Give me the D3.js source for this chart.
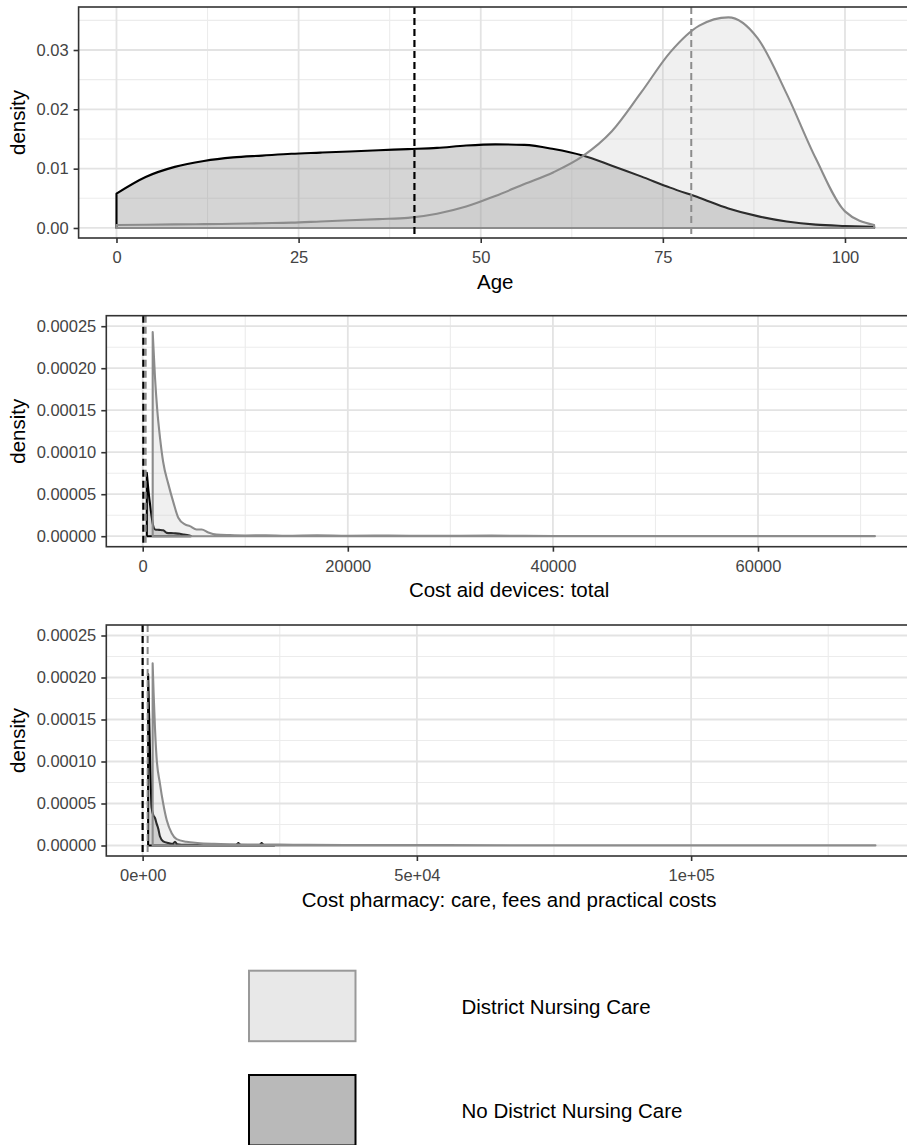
<!DOCTYPE html>
<html>
<head>
<meta charset="utf-8">
<script src="https://cdn.jsdelivr.net/npm/d3@7"></script>
<style>
  html, body { margin: 0; padding: 0; background: #fff; }
  svg { display: block; font-family: "Liberation Sans", Arial, sans-serif; }
</style>
</head>
<body>
<svg id="chart" width="907" height="1145"></svg>
<script>
// ---- series labels (legend order) ----
const seriesNames = ["District Nursing Care", "No District Nursing Care"];

// ---- Age densities ----
const ageGrid = [0, 4, 8, 12, 16, 20, 24, 28, 32, 36, 40, 44, 48, 52, 56, 60, 64, 68, 72, 76, 80, 84, 88, 92, 96, 100, 104];
const ageDensityDistrict = [0.0005, 0.00055, 0.0006, 0.00065, 0.0007, 0.0008, 0.0009, 0.0011, 0.0013, 0.0015, 0.0017, 0.0024, 0.0036, 0.0054, 0.0074, 0.0094, 0.0121, 0.0163, 0.0228, 0.0296, 0.0341, 0.0355, 0.0320, 0.0226, 0.0117, 0.0028, 0.0005];
const ageDensityNoDistrict = [0.0058, 0.0086, 0.0103, 0.0113, 0.0119, 0.0122, 0.0125, 0.0127, 0.0129, 0.0131, 0.0133, 0.0135, 0.0139, 0.0141, 0.0140, 0.0133, 0.0122, 0.0105, 0.0087, 0.0068, 0.0051, 0.0033, 0.0020, 0.0011, 0.00056, 0.00034, 0.0002];
const ageMedians = [78.9, 40.9];

// ---- Cost aid devices: total ----
const aidCostDistrict = [974, 1200, 1420, 1700, 2000, 2500, 3000, 3470, 4120, 4600, 5250, 5750, 6400, 7200, 8500, 10000, 12000, 14000, 17000, 20000, 24000, 28000, 34000, 40000, 50000, 60000, 71400];
const aidDensityDistrict = [0.000243, 0.000189, 0.000150, 0.000116, 0.000088, 0.000062, 0.000040, 0.000022, 0.000014, 0.000012, 0.000008, 0.000008, 0.0000045, 0.000002, 0.0000013, 0.0000009, 0.0000012, 0.0000006, 0.000001, 0.0000005, 0.0000008, 0.0000004, 0.0000007, 0.0000003, 0.0000002, 0.0000002, 0.0000002];
const aidCostNoDistrict = [400, 550, 780, 1035, 1200, 1600, 2000, 2340, 3000, 3630, 4000, 4440, 4700];
const aidDensityNoDistrict = [0.0000755, 0.0000556, 0.0000318, 0.0000119, 0.000008, 0.0000075, 0.000007, 0.000004, 0.0000035, 0.0000029, 0.000002, 0.0000012, 0.0000002];
const aidMedians = [290, 60];

// ---- Cost pharmacy: care, fees and practical costs ----
const pharmCostDistrict = [1825, 2000, 2250, 2550, 3150, 3750, 4400, 5300, 6200, 8000, 10000, 13000, 16000, 20000, 25000, 30000, 40000, 55000, 70000, 90000, 110000, 133600];
const pharmDensityDistrict = [0.000217, 0.000182, 0.000140, 0.000104, 0.000074, 0.000050, 0.000030, 0.0000147, 0.0000076, 0.0000044, 0.000003, 0.000002, 0.0000015, 0.0000012, 0.000001, 0.0000008, 0.0000006, 0.0000004, 0.0000003, 0.0000002, 0.0000002, 0.0000002];
const pharmCostNoDistrict = [1000, 1200, 1400, 1650, 1950, 2250, 2550, 2850, 3150, 3750, 4700, 5500, 5900, 6300, 8000, 12000, 17000, 17450, 17900, 21300, 21700, 22100, 24000];
const pharmDensityNoDistrict = [0.000204, 0.000150, 0.000095, 0.000045, 0.000036, 0.000033, 0.000026, 0.000020, 0.000011, 0.000005, 0.000003, 0.000002, 0.0000045, 0.0000015, 0.0000008, 0.0000006, 0.0000003, 0.000003, 0.0000003, 0.0000003, 0.000003, 0.0000003, 0.0000001];
const pharmMedians = [912, 0];

// ---- styles per series ----
const seriesStyle = [
  { fill: "#bdbdbd", fillOpacity: 0.23, stroke: "#8c8c8c", dash: "7,4", dashWidth: 2.0, keyFill: "#e8e8e8", keyStroke: "#999999" },
  { fill: "#7f7f7f", fillOpacity: 0.33, stroke: "#000000", dash: "7,4", dashWidth: 2.2, keyFill: "#b9b9b9", keyStroke: "#000000" }
];

const svg = d3.select("#chart");
const tickColor = "#444444";
const frameColor = "#333333";

function sciLabel(v) {
  const [m, e] = v.toExponential(0).split("e");
  return m + "e" + e[0] + e.slice(1).padStart(2, "0");
}

function drawPanel(cfg, idx) {
  const { left, right, top, bottom } = cfg.box;
  const x = d3.scaleLinear().domain(cfg.xDomain).range([left, right]);
  const y = d3.scaleLinear().domain(cfg.yDomain).range([bottom, top]);
  const g = svg.append("g");

  const clipId = "clip" + idx;
  svg.append("clipPath").attr("id", clipId)
    .append("rect").attr("x", left).attr("y", top)
    .attr("width", right - left).attr("height", bottom - top);

  // grid
  const grid = g.append("g");
  grid.selectAll(".xminor").data(cfg.xMinor).join("line")
    .attr("x1", d => x(d)).attr("x2", d => x(d)).attr("y1", top).attr("y2", bottom)
    .attr("stroke", "#ececec").attr("stroke-width", 1.1);
  grid.selectAll(".yminor").data(cfg.yMinor).join("line")
    .attr("y1", d => y(d)).attr("y2", d => y(d)).attr("x1", left).attr("x2", right)
    .attr("stroke", "#ececec").attr("stroke-width", 1.1);
  grid.selectAll(".xmajor").data(cfg.xMajor).join("line")
    .attr("x1", d => x(d)).attr("x2", d => x(d)).attr("y1", top).attr("y2", bottom)
    .attr("stroke", "#e3e3e3").attr("stroke-width", 1.8);
  grid.selectAll(".ymajor").data(cfg.yMajor).join("line")
    .attr("y1", d => y(d)).attr("y2", d => y(d)).attr("x1", left).attr("x2", right)
    .attr("stroke", "#e3e3e3").attr("stroke-width", 1.8);

  // densities (No District first, District on top)
  const area = d3.area()
    .x(d => x(d[0])).y0(y(0)).y1(d => y(d[1]))
    .curve(d3.curveMonotoneX);
  const plot = g.append("g").attr("clip-path", `url(#${clipId})`);
  [1, 0].forEach(s => {
    const pts = d3.zip(cfg.xs[s], cfg.ys[s]);
    const st = seriesStyle[s];
    plot.append("path").datum(pts)
      .attr("d", area)
      .attr("fill", st.fill).attr("fill-opacity", st.fillOpacity)
      .attr("stroke", st.stroke).attr("stroke-width", 2.1)
      .attr("stroke-linejoin", "round");
  });

  // median lines
  [0, 1].forEach(s => {
    const st = seriesStyle[s];
    plot.append("line")
      .attr("x1", x(cfg.medians[s])).attr("x2", x(cfg.medians[s]))
      .attr("y1", top).attr("y2", bottom)
      .attr("stroke", st.stroke).attr("stroke-width", st.dashWidth)
      .attr("stroke-dasharray", st.dash);
  });

  // frame
  g.append("rect").attr("x", left).attr("y", top)
    .attr("width", right - left).attr("height", bottom - top)
    .attr("fill", "none").attr("stroke", frameColor).attr("stroke-width", 1.6);

  // axes
  const xAxis = d3.axisBottom(x).tickValues(cfg.xMajor).tickFormat(cfg.xFormat)
    .tickSize(5).tickPadding(8.5);
  const yAxis = d3.axisLeft(y).tickValues(cfg.yMajor).tickFormat(cfg.yFormat)
    .tickSize(5).tickPadding(5);
  const gx = g.append("g").attr("transform", `translate(0,${bottom})`).call(xAxis);
  const gy = g.append("g").attr("transform", `translate(${left},0)`).call(yAxis);
  [gx, gy].forEach(a => {
    a.select(".domain").remove();
    a.selectAll(".tick line").attr("stroke", frameColor).attr("stroke-width", 1.6);
    a.selectAll(".tick text").attr("fill", tickColor)
      .style("font-size", "16.5px").style("font-family", "'Liberation Sans', Arial, sans-serif");
  });

  // titles
  g.append("text").attr("x", (left + right) / 2).attr("y", bottom + 50.5)
    .attr("text-anchor", "middle").attr("fill", "#000")
    .style("font-size", "20.5px").text(cfg.title);
  g.append("text")
    .attr("transform", `translate(25,${(top + bottom) / 2}) rotate(-90)`)
    .attr("text-anchor", "middle").attr("fill", "#000")
    .style("font-size", "20.5px").text("density");
}

drawPanel({
  box: { left: 78.6, right: 912, top: 7, bottom: 238 },
  xDomain: [-5.2, 109.2], yDomain: [-0.00169, 0.03725],
  xMajor: [0, 25, 50, 75, 100], xMinor: [12.5, 37.5, 62.5, 87.5],
  yMajor: [0, 0.01, 0.02, 0.03], yMinor: [0.005, 0.015, 0.025, 0.035],
  xFormat: d3.format("d"), yFormat: d3.format(".2f"),
  title: "Age",
  xs: [ageGrid, ageGrid], ys: [ageDensityDistrict, ageDensityNoDistrict],
  medians: ageMedians
}, 0);

drawPanel({
  box: { left: 106.3, right: 912, top: 315.7, bottom: 546.7 },
  xDomain: [-3550, 75017], yDomain: [-0.0000125, 0.0002625],
  xMajor: [0, 20000, 40000, 60000], xMinor: [10000, 30000, 50000, 70000],
  yMajor: [0, 0.00005, 0.0001, 0.00015, 0.0002, 0.00025],
  yMinor: [0.000025, 0.000075, 0.000125, 0.000175, 0.000225],
  xFormat: d3.format("d"), yFormat: d3.format(".5f"),
  title: "Cost aid devices: total",
  xs: [aidCostDistrict, aidCostNoDistrict], ys: [aidDensityDistrict, aidDensityNoDistrict],
  medians: aidMedians
}, 1);

drawPanel({
  box: { left: 106.3, right: 912, top: 625, bottom: 856 },
  xDomain: [-6624, 140270], yDomain: [-0.0000125, 0.0002625],
  xMajor: [0, 50000, 100000], xMinor: [25000, 75000, 125000],
  yMajor: [0, 0.00005, 0.0001, 0.00015, 0.0002, 0.00025],
  yMinor: [0.000025, 0.000075, 0.000125, 0.000175, 0.000225],
  xFormat: sciLabel, yFormat: d3.format(".5f"),
  title: "Cost pharmacy: care, fees and practical costs",
  xs: [pharmCostDistrict, pharmCostNoDistrict], ys: [pharmDensityDistrict, pharmDensityNoDistrict],
  medians: pharmMedians
}, 2);

// legend
const legendTop = [970.7, 1075];
const legend = svg.append("g");
seriesNames.forEach((name, i) => {
  const st = seriesStyle[i];
  legend.append("rect")
    .attr("x", 249).attr("y", legendTop[i]).attr("width", 106.5).attr("height", 70.5)
    .attr("fill", st.keyFill).attr("stroke", st.keyStroke).attr("stroke-width", 2);
  legend.append("text")
    .attr("x", 461.5).attr("y", legendTop[i] + 35.5 + 7.4)
    .attr("fill", "#000").style("font-size", "20.5px").text(name);
});
</script>
</body>
</html>
